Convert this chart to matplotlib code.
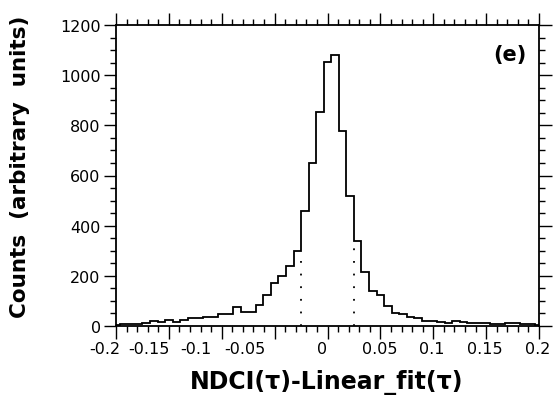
import numpy as np
import matplotlib
matplotlib.use("Agg")
import matplotlib.pyplot as plt
from matplotlib.ticker import MultipleLocator
from matplotlib.transforms import ScaledTranslation

# Histogram counts, bins of width 1/140 centred on k/140 (k = -28..28, end bins clipped at +-0.2)
counts = [5, 6, 7, 9, 13, 19, 14, 23, 14, 22, 30, 32, 34, 35,
          48, 48, 74, 55, 55, 84, 125, 170, 201, 240, 298, 458, 649, 852,
          1051, 1082, 779, 520, 340, 215, 140, 125, 78, 51, 48, 35, 32, 21,
          19, 15, 12, 19, 15, 12, 11, 13, 8, 8, 11, 11, 8, 6, 5]
bin_width = 1.0 / 140
x_min, x_max = -0.2, 0.2
inner_edges = [(k + 0.5) * bin_width for k in range(-28, 28)]
edges = [x_min] + inner_edges + [x_max]
marker_positions = [-0.025, 0.025]

x_ticks = [-0.2, -0.15, -0.1, -0.05, 0, 0.05, 0.1, 0.15, 0.2]
x_tick_labels = ["-0.2", "-0.15", "-0.1", "-0.05", "0", "0.05", "0.1", "0.15", "0.2"]
# horizontal shifts (pixels) of the tick labels as typeset in the original
x_label_shift_px = [-11, -20, -26, -30, -5, -1, -2, -1, -1]
y_ticks = [0, 200, 400, 600, 800, 1000, 1200]

plt.rcParams['font.family'] = ['DejaVu Sans']

fig = plt.figure(figsize=(5.53, 4.06), dpi=100)
ax = fig.add_axes([116/553, 1 - 327/406, 423/553, 301/406])

ax.stairs(counts, edges, baseline=0, color='black', lw=1.3)

# dotted markers at +-0.025 up to the lower neighbouring bin
e = np.array(edges)
c = np.array(counts)
for m in marker_positions:
    i = int(np.argmin(np.abs(e - m)))
    h = min(c[i - 1], c[i])
    ax.plot([m, m], [0, h], color='black', lw=1.3, linestyle=(0, (1.0, 6)))

ax.set_xlim(x_min, x_max)
ax.set_ylim(0, 1200)
ax.set_xticks(x_ticks)
ax.set_xticklabels(x_tick_labels)
ax.set_yticks(y_ticks)
ax.xaxis.set_minor_locator(MultipleLocator(0.01))
ax.yaxis.set_minor_locator(MultipleLocator(50))

ax.tick_params(which='both', direction='out', top=True, right=True,
               labelsize=11.5, width=1.0, colors='black')
ax.tick_params(which='major', length=9, pad=2)
ax.tick_params(which='minor', length=4.5)
for s in ax.spines.values():
    s.set_linewidth(1.3)

ax.set_xlabel("NDCI(\u03c4)-Linear_fit(\u03c4)", fontsize=17, fontweight='bold')
ax.xaxis.label.set_va('center')
ax.xaxis.set_label_coords((327 - 116) / 423, (327 - 383) / 301)
ax.set_ylabel("Counts  (arbitrary  units)", fontsize=15.5, fontweight='bold')
ax.yaxis.label.set_va('center')
ax.yaxis.set_label_coords((20 - 116) / 423, (327 - 167) / 301)
ax.text(0.931, 0.904, "(e)", transform=ax.transAxes, fontsize=15, fontweight='bold',
        ha='center', va='center')

for lbl, dx in zip(ax.get_xticklabels(), x_label_shift_px):
    lbl.set_transform(lbl.get_transform() + ScaledTranslation(dx / 100, 0, fig.dpi_scale_trans))

fig.savefig("out.png", dpi=100)
